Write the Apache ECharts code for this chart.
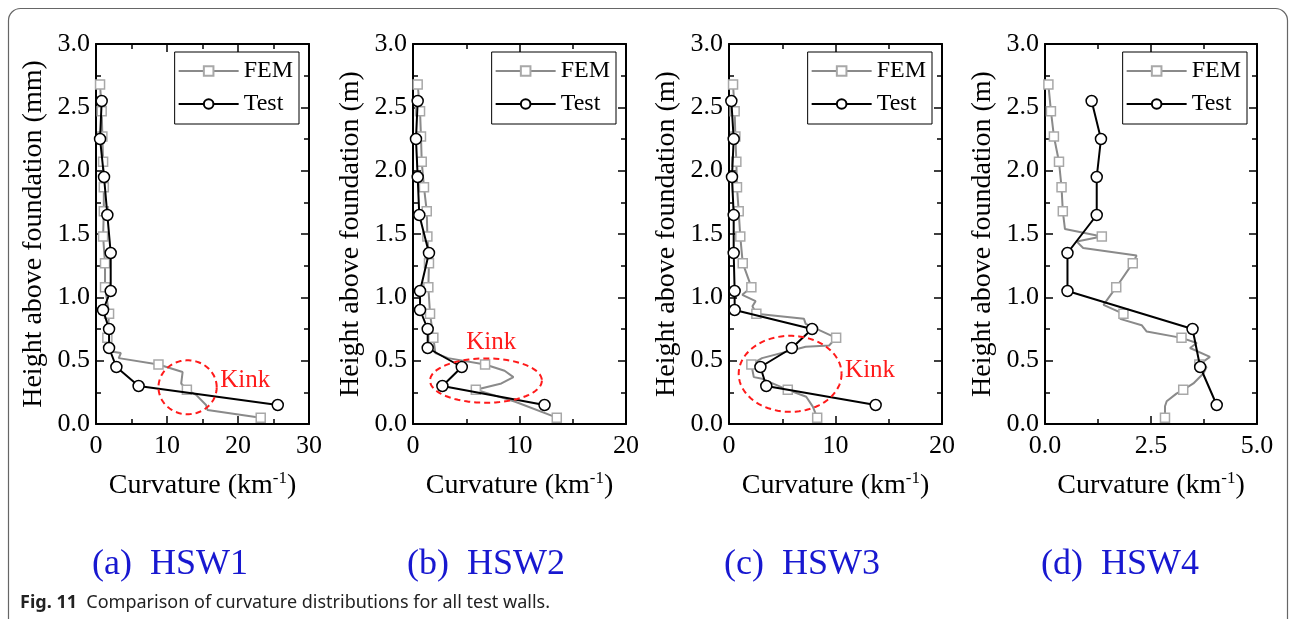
<!DOCTYPE html>
<html><head><meta charset="utf-8">
<script src="https://cdn.jsdelivr.net/npm/echarts@6/dist/echarts.min.js"></script>
<style>html,body{margin:0;padding:0;background:#fff}#c{width:1290px;height:619px}</style>
</head><body><div id="c"></div>
<script>
// ---- data ----
// FEM paths: [curvature, height, node(1 = plotted marker)]
const femA = [[0.57,2.68,1],[0.8,2.47,1],[0.9,2.27,1],[1.0,2.07,1],[1.1,1.87,1],[1.1,1.68,1],[1.0,1.48,1],[1.27,1.27,1],[1.27,1.08,1],[1.84,0.87,1],[1.6,0.68,1],[1.9,0.575,0],[3.5,0.56,0],[3.2,0.52,0],[8.8,0.47,1],[12.2,0.41,0],[12.0,0.32,0],[12.8,0.27,1],[14.1,0.23,0],[15.5,0.15,0],[15.7,0.11,0],[23.2,0.05,1]];
const femB = [[0.44,2.68,1],[0.66,2.47,1],[0.75,2.27,1],[0.82,2.07,1],[1.03,1.87,1],[1.29,1.68,1],[1.35,1.48,1],[1.5,1.27,1],[1.44,1.08,1],[1.6,0.87,1],[1.91,0.68,1],[2.1,0.56,0],[3.3,0.52,0],[6.77,0.47,1],[8.6,0.42,0],[9.43,0.37,0],[8.3,0.32,0],[5.9,0.27,1],[8.65,0.2,0],[9.6,0.176,0],[13.5,0.05,1]];
const femC = [[0.38,2.68,1],[0.53,2.47,1],[0.6,2.27,1],[0.69,2.07,1],[0.75,1.87,1],[0.91,1.68,1],[1.06,1.48,1],[1.29,1.27,1],[2.1,1.08,1],[1.25,1.02,0],[2.5,0.97,0],[2.2,0.93,0],[2.57,0.87,1],[7.04,0.83,0],[7.2,0.79,0],[10.06,0.68,1],[9.4,0.62,0],[7.2,0.61,0],[3.1,0.52,0],[2.1,0.47,1],[2.33,0.37,0],[3.0,0.36,0],[5.52,0.27,1],[7.25,0.215,0],[7.87,0.137,0],[8.28,0.05,1]];
const femD = [[0.08,2.68,1],[0.14,2.47,1],[0.21,2.27,1],[0.33,2.07,1],[0.39,1.87,1],[0.42,1.68,1],[0.47,1.54,0],[1.34,1.48,1],[0.75,1.44,0],[0.9,1.39,0],[2.16,1.33,0],[2.07,1.27,1],[1.68,1.08,1],[1.38,0.94,0],[1.85,0.87,1],[1.77,0.83,0],[2.28,0.78,0],[2.4,0.73,0],[3.22,0.68,1],[3.58,0.64,0],[3.42,0.6,0],[3.89,0.53,0],[3.64,0.47,1],[3.81,0.45,0],[3.74,0.40,0],[3.5,0.32,0],[3.26,0.27,1],[3.1,0.24,0],[2.87,0.18,0],[2.83,0.14,0],[2.83,0.05,1]];

const testHeightsABC = [2.55,2.25,1.95,1.65,1.35,1.05,0.9,0.75,0.6,0.45,0.3,0.15];
const testA = [0.8,0.57,1.13,1.6,2.07,2.07,0.99,1.84,1.84,2.87,6.0,25.6];
const testB = [0.44,0.28,0.44,0.59,1.5,0.66,0.66,1.38,1.38,4.58,2.76,12.35];
const testC = [0.22,0.44,0.28,0.44,0.44,0.53,0.53,7.8,5.9,2.95,3.5,13.77];
const testHeightsD = [2.55,2.25,1.95,1.65,1.35,1.05,0.75,0.45,0.15];
const testD = [1.1,1.32,1.22,1.22,0.53,0.53,3.48,3.66,4.05];

const xMax = [30, 20, 20, 5];
const xInterval = [10, 10, 10, 2.5];
const xDecimals = [0, 0, 0, 1];
const yMax = 3, yInterval = 0.5;
const yNames = ['Height above foundation (mm)','Height above foundation (m)','Height above foundation (m)','Height above foundation (m)'];
const subtitles = ['(a)  HSW1','(b)  HSW2','(c)  HSW3','(d)  HSW4'];
const legendNames = ['FEM','Test'];
// kink annotations (panels a, b, c): ellipse centre/radii and label anchor in data units
const kinkCx = [12.9, 6.85, 5.74];
const kinkCy = [0.29, 0.343, 0.396];
const kinkRx = [4.1, 5.25, 4.83];
const kinkRy = [0.213, 0.175, 0.30];
const kinkLabelX = [17.5, 4.99, 10.9];
const kinkLabelY = [0.34, 0.647, 0.426];
const captionBold = 'Fig. 11';
const captionText = 'Comparison of curvature distributions for all test walls.';

// ---- layout ----
const gridLeft = [96, 413, 729, 1045];
const gridWidth = [213, 213, 213, 212];
const gridTop = 44, gridHeight = 380;
const subtitleX = [170, 486, 802, 1120];
const SERIF = '"Liberation Serif", "Times New Roman", serif';
const SANS = '"Noto Sans", "Open Sans", sans-serif';

const fems = [femA, femB, femC, femD];
const tests = [[testA,testHeightsABC],[testB,testHeightsABC],[testC,testHeightsABC],[testD,testHeightsD]];

const grids = [], xAxes = [], yAxes = [], series = [], legends = [], graphics = [];

function axisCommon(){
  return {
    axisLine:{show:true,onZero:false,lineStyle:{color:'#000',width:2}},
    axisTick:{show:true,inside:true,length:8,lineStyle:{color:'#000',width:1.5}},
    minorTick:{show:true,splitNumber:2,length:5,lineStyle:{color:'#000',width:1.5}},
    splitLine:{show:false}, minorSplitLine:{show:false}
  };
}

for (let i = 0; i < 4; i++) {
  grids.push({left:gridLeft[i], top:gridTop, width:gridWidth[i], height:gridHeight, containLabel:false});
  const dec = xDecimals[i];
  xAxes.push(Object.assign(axisCommon(), {
    gridIndex:i, type:'value', position:'bottom', min:0, max:xMax[i], interval:xInterval[i],
    axisLabel:{show:true,margin:9,color:'#000',fontSize:26,fontFamily:SERIF,formatter:v=>v.toFixed(dec)},
    name:'Curvature (km{sup|-1})', nameLocation:'middle', nameGap:46,
    nameTextStyle:{color:'#000',fontSize:28,fontFamily:SERIF,rich:{sup:{fontSize:17,fontFamily:SERIF,color:'#000',verticalAlign:'top',padding:[0,0,14,0]}}}
  }));
  xAxes.push(Object.assign(axisCommon(), {
    gridIndex:i, type:'value', position:'top', min:0, max:xMax[i], interval:xInterval[i],
    axisLabel:{show:false}
  }));
  yAxes.push(Object.assign(axisCommon(), {
    gridIndex:i, type:'value', position:'left', min:0, max:yMax, interval:yInterval,
    axisLabel:{show:true,margin:6,color:'#000',fontSize:26,fontFamily:SERIF,formatter:v=>v.toFixed(1)},
    name:yNames[i], nameLocation:'middle', nameGap:48, nameRotate:90,
    nameTextStyle:{color:'#000',fontSize:28,fontFamily:SERIF}
  }));
  yAxes.push(Object.assign(axisCommon(), {
    gridIndex:i, type:'value', position:'right', min:0, max:yMax, interval:yInterval,
    axisLabel:{show:false}
  }));

  series.push({
    name:'FEM', type:'line', xAxisIndex:2*i, yAxisIndex:2*i,
    data: fems[i].map(p => p[2] ? {value:[p[0],p[1]]} : {value:[p[0],p[1]], symbol:'none'}),
    symbol:'rect', symbolSize:9, showAllSymbol:true,
    lineStyle:{color:'#8a8a8a',width:2},
    itemStyle:{color:'#fff',borderColor:'#a8a8a8',borderWidth:1.5},
    z:2, animation:false
  });
  series.push({
    name:'Test', type:'line', xAxisIndex:2*i, yAxisIndex:2*i,
    data: tests[i][0].map((x,k) => [x, tests[i][1][k]]),
    symbol:'circle', symbolSize:11, showAllSymbol:true,
    lineStyle:{color:'#000',width:2},
    itemStyle:{color:'#fff',borderColor:'#000',borderWidth:1.5},
    z:3, animation:false
  });

  legends.push({
    orient:'vertical', right:1290-(gridLeft[i]+gridWidth[i])+10, top:52,
    data:legendNames, selectedMode:false,
    itemWidth:60, itemHeight:12, itemGap:9,
    padding:[7,6,8,3], borderColor:'#000', borderWidth:1, backgroundColor:'#fff',
    textStyle:{color:'#000',fontSize:24,fontFamily:SERIF}
  });

  graphics.push({
    type:'text', x:subtitleX[i], y:565,
    style:{text:subtitles[i], fill:'#1818d0', font:'36px '+SERIF, fontSize:36, fontFamily:SERIF, align:'center', verticalAlign:'middle', textAlign:'center', textVerticalAlign:'middle'}
  });
}

// kink annotations
for (let i = 0; i < 3; i++) {
  series.push({
    type:'custom', xAxisIndex:2*i, yAxisIndex:2*i, clip:false, z:5, animation:false, silent:true,
    data:[[kinkCx[i], kinkCy[i], kinkRx[i], kinkRy[i], kinkLabelX[i], kinkLabelY[i]]],
    renderItem:function(params, api){
      const c = api.coord([api.value(0), api.value(1)]);
      const s = api.size([api.value(2), api.value(3)]);
      const pts = [];
      for (let k = 0; k <= 90; k++) { const t = k/90*2*Math.PI; pts.push([c[0]+s[0]*Math.cos(t), c[1]+s[1]*Math.sin(t)]); }
      const lp = api.coord([api.value(4), api.value(5)]);
      return {type:'group', children:[
        {type:'polyline', shape:{points:pts}, style:{fill:null, stroke:'#ff1a1a', lineWidth:2, lineDash:[6,4]}},
        {type:'text', x:lp[0], y:lp[1], style:{text:'Kink', fill:'#ff1a1a', fontSize:25, fontFamily:SERIF, font:'25px '+SERIF, align:'left', verticalAlign:'middle', textAlign:'left', textVerticalAlign:'middle'}}
      ]};
    }
  });
}

// frame and caption
graphics.push({type:'rect', shape:{x:8.5, y:8.5, width:1279, height:700, r:12}, style:{fill:null, stroke:'#666', lineWidth:1.2}, z:-1});
graphics.push({type:'text', x:20, y:603, style:{
  text:'{b|'+captionBold+'}  '+captionText,
  fill:'#222', fontSize:18, fontFamily:SANS, verticalAlign:'middle', textVerticalAlign:'middle',
  rich:{b:{fontWeight:'bold', fontSize:18, fontFamily:SANS, fill:'#222'}}
}});

const chart = echarts.init(document.getElementById('c'), null, {renderer:'canvas'});
chart.setOption({
  animation:false, backgroundColor:'#fff',
  grid:grids, xAxis:xAxes, yAxis:yAxes, series:series, legend:legends, graphic:graphics
});
</script></body></html>
